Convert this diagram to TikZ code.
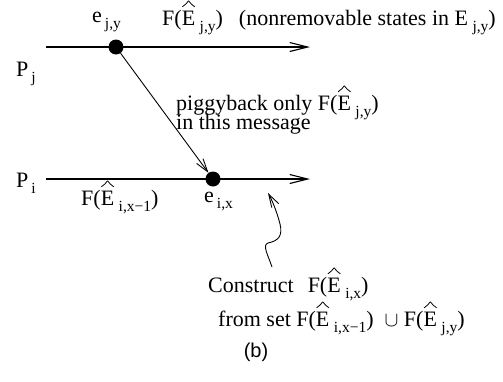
\documentclass[tikz,border=0pt]{standalone}
\usepackage{fontspec}
\usepackage{pict2e}
\setmainfont{Liberation Serif}
\setsansfont{Liberation Sans}
\usetikzlibrary{arrows.meta}
\setlength{\unitlength}{1pt}
\newcommand{\subx}[1]{\hspace{3pt}\raisebox{-6pt}{\fontsize{15.5}{15.5}\selectfont #1}}
\newcommand{\hatmark}{\begin{picture}(0,0)\linethickness{0.8pt}%
  \qbezier(0.6,18.2)(4.3,20.6)(6.8,24.2)\qbezier(6.8,24.2)(9.3,20.6)(13,18.2)\end{picture}}
\newcommand{\hE}{\leavevmode\hatmark E\hspace{1.5pt}}
\newcommand{\txtfont}{\fontsize{22}{19}\selectfont\lineskiplimit=-30pt\relax}
\tikzset{
  txt/.style={inner sep=0pt, anchor=base west, font=\txtfont},
  procline/.style={line width=1.3pt, -{Straight Barb[length=18pt,width=9pt,line width=1.1pt]}},
  msg/.style={line width=0.9pt, -{Straight Barb[length=13pt,width=8pt,line width=0.9pt]}},
  evdot/.style={circle, fill=black, inner sep=0pt, minimum size=15pt},
}
\begin{document}
\begin{tikzpicture}[x=1pt,y=-1pt]
\useasboundingbox (0,0) rectangle (503,381);
% process lines
\coordinate (pjs) at (46,47);
\coordinate (pje) at (310,47);
\coordinate (pis) at (46,179);
\coordinate (pie) at (310,179);
\draw[procline] (pjs) -- (pje);
\draw[procline] (pis) -- (pie);
% events
\node[evdot] (ejy) at (116,47) {};
\node[evdot] (eix) at (213,179) {};
\draw[msg] (ejy) -- (eix);
% labels
\node[txt] (lejy) at (92,22) {e\subx{j,y}};
\node[txt] (ltop) at (162,25) {F(\hE\subx{j,y})\hspace{16pt}(nonremovable states in E\hspace{1.5pt}\subx{j,y})};
\node[txt] (lpj) at (16,76) {P\subx{j}};
\node[txt] (lpi) at (16,187) {P\subx{i}};
\node[txt, align=left] (lpig) at (176,129) {piggyback only F(\hE\subx{j,y})\\in this message};
\node[txt] (lfim) at (81,205) {F(\hE\subx{i,x−1})};
\node[txt] (leix) at (204,202) {e\subx{i,x}};
\node[txt] (lcon) at (208,292) {Construct\hspace{14pt}F(\hE\subx{i,x})};
\node[txt] (lfrom) at (218,326) {from set F(\hE\subx{i,x−1})\ \ $\cup$ F(\hE\subx{j,y})};
\node[inner sep=0pt, font=\sffamily\fontsize{20}{20}\selectfont] (lb) at (256,352) {(b)};
% wavy pointer
\coordinate (wstart) at (272,267);
\coordinate (wtip) at (268,193);
\draw[msg] (wstart) .. controls (268,255) and (262,245) .. (268,243)
  .. controls (278,241) and (283,236) .. (280,224)
  .. controls (277,212) and (272,200) .. (wtip);
\end{tikzpicture}
\end{document}
